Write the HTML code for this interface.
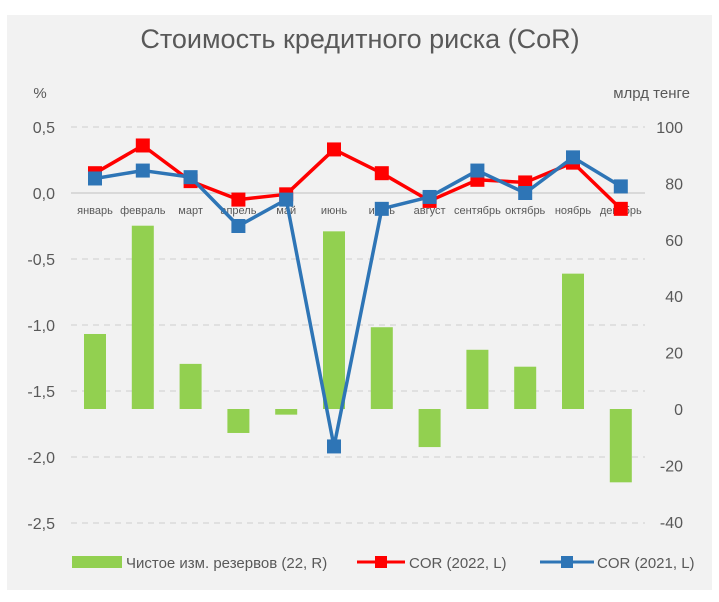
<!DOCTYPE html>
<html><head><meta charset="utf-8">
<style>
body{margin:0;background:#fff;width:719px;height:597px;overflow:hidden}
svg text{font-family:"Liberation Sans Narrow","Liberation Sans","DejaVu Sans Condensed",sans-serif;fill:#595959}
</style></head><body>
<svg id="chart" width="719" height="597">
<rect x="7" y="15" width="705" height="575" fill="#f2f2f2"/>
<text x="360" y="48" font-size="27" text-anchor="middle">Стоимость кредитного риска (CoR)</text>
<text x="40" y="98" font-size="15" text-anchor="middle">%</text>
<text x="690" y="98" font-size="15" text-anchor="end">млрд тенге</text>
<g id="grid"></g><g id="bars"></g><g id="xlabels"></g><g id="lines"></g><g id="ticks"></g>
<g>
<rect x="72" y="556" width="50" height="12" fill="#92d050"/>
<text x="126" y="568" font-size="15">Чистое изм. резервов (22, R)</text>
<line x1="357" y1="562" x2="405" y2="562" stroke="#ff0000" stroke-width="3"/>
<rect x="375" y="556" width="12" height="12" fill="#ff0000"/>
<text x="409" y="568" font-size="15">COR (2022, L)</text>
<line x1="540" y1="562" x2="594" y2="562" stroke="#2e75b6" stroke-width="3"/>
<rect x="561" y="556" width="12" height="12" fill="#2e75b6"/>
<text x="597" y="568" font-size="15">COR (2021, L)</text>
</g>
</svg>
<script>
const categories=["январь","февраль","март","апрель","май","июнь","июль","август","сентябрь","октябрь","ноябрь","декабрь"];
const reserves=[26.6,65,16,-8.5,-2,63,29,-13.5,21,15,48,-26];
const cor2022=[0.15,0.36,0.09,-0.05,-0.01,0.33,0.15,-0.06,0.1,0.08,0.23,-0.12];
const cor2021=[0.11,0.17,0.12,-0.25,-0.05,-1.92,-0.12,-0.03,0.17,0.0,0.27,0.05];
const leftTicks=[0.5,0,-0.5,-1,-1.5,-2,-2.5];
const leftTickLabels=["0,5","0,0","-0,5","-1,0","-1,5","-2,0","-2,5"];
const rightTicks=[100,80,60,40,20,0,-20,-40];
const NS="http://www.w3.org/2000/svg";
const yL=v=>193-v*132;
const yR=v=>409-v*2.82;
const xC=i=>95+i*47.8;
function mk(tag,attrs,parent,txt){const e=document.createElementNS(NS,tag);for(const k in attrs)e.setAttribute(k,attrs[k]);if(txt!==undefined)e.textContent=txt;document.getElementById(parent).appendChild(e);return e;}
leftTicks.forEach((v,i)=>{
 const g=mk("line",{x1:71,x2:645,y1:yL(v),y2:yL(v),stroke:"#d9d9d9","stroke-width":v===0?2:1.5,"stroke-dasharray":v===0?"":"6,5"},"grid");
 
 
 const t=mk("text",{x:55,y:yL(v)+6,"font-size":16,"text-anchor":"end"},"ticks",leftTickLabels[i]);
 
 
});
rightTicks.forEach(v=>{
 const t=mk("text",{x:683,y:yR(v)+6,"font-size":16,"text-anchor":"end"},"ticks",String(v));
 
 
});
reserves.forEach((v,i)=>{
 const y0=yR(0),y1=yR(v);
 const r=mk("rect",{x:xC(i)-11,y:Math.min(y0,y1),width:22,height:Math.abs(y1-y0),fill:"#92d050"},"bars");
 
 
});
categories.forEach((c,i)=>{
 const t=mk("text",{x:xC(i),y:214,"font-size":11,"text-anchor":"middle"},"xlabels",c);
 
 
});
function series(vals,color,name){
 const p=mk("polyline",{points:vals.map((v,i)=>xC(i)+","+yL(v)).join(" "),fill:"none",stroke:color,"stroke-width":3.5,"stroke-linejoin":"round"},"lines");
 
 
 vals.forEach((v,i)=>{
  const m=mk("rect",{x:xC(i)-7,y:yL(v)-7,width:14,height:14,fill:color},"lines");
  
  
 });
}
series(cor2022,"#ff0000","cor2022");
series(cor2021,"#2e75b6","cor2021");
</script>
</body></html>
